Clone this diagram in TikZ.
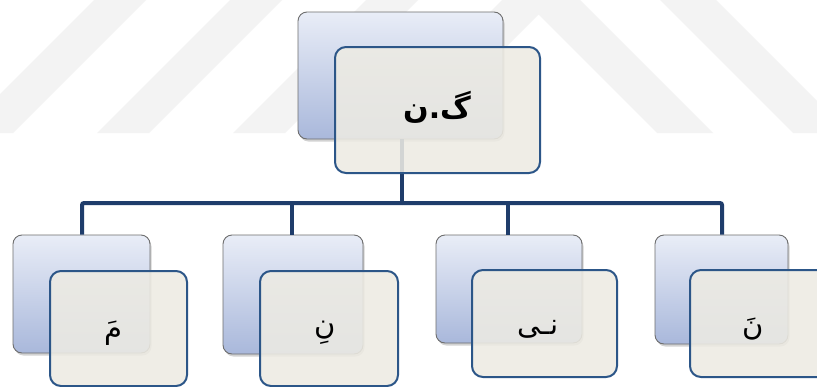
\documentclass[tikz,border=0pt]{standalone}
\usepackage{fontspec}
\newfontfamily\arabicfont[Script=Arabic]{DejaVu Sans}
\TeXXeTstate=1
\usetikzlibrary{shadows}
\definecolor{wm}{HTML}{F3F3F3}
\definecolor{backtop}{HTML}{E9EDF7}
\definecolor{backbot}{HTML}{A9B8DB}
\definecolor{backline}{HTML}{6E6E6E}
\definecolor{frontfill}{HTML}{EDEBE3}
\definecolor{frontline}{HTML}{2C5688}
\definecolor{conn}{HTML}{1F3D6B}
\tikzset{
  backbox/.style={draw=backline, line width=0.9pt, rounded corners=9pt,
    top color=backtop, bottom color=backbot, inner sep=0pt,
    drop shadow={shadow xshift=1.5pt, shadow yshift=-2.5pt, opacity=0.35}},
  frontbox/.style={draw=frontline, line width=2pt, rounded corners=11pt,
    fill=frontfill, fill opacity=0.88, draw opacity=1, inner sep=0pt},
  conline/.style={draw=conn, line width=4pt},
  toplabel/.style={font=\arabicfont\bfseries\fontsize{30}{34}\selectfont, inner sep=0pt},
  childlabel/.style={font=\arabicfont\fontsize{29}{32}\selectfont, inner sep=0pt},
  wmstripe/.style={fill=wm, draw=none}
}
\begin{document}
\begin{tikzpicture}[x=1pt,y=-1pt]
\clip (0,0) rectangle (817,386);
\fill[white] (0,0) rectangle (817,386);
% watermark
\foreach \b in {-39,97,233} {
  \fill[wmstripe] (\b,133) -- (\b+52,133) -- (\b+185,0) -- (\b+133,0) -- cycle;
}
\fill[wmstripe] (369,133) -- (541,-39) -- (713,133) -- (657,133) -- (538.5,14.5) -- (420,133) -- cycle;
\fill[wmstripe] (793,133) -- (849,133) -- (716,0) -- (660,0) -- cycle;

% back boxes
\node[backbox, minimum width=205pt, minimum height=127pt] (tb) at (400.5,75.5) {};
\node[backbox, minimum width=137pt, minimum height=118pt] (b1) at (81.5,294) {};
\node[backbox, minimum width=140pt, minimum height=119pt] (b2) at (293,294.5) {};
\node[backbox, minimum width=146pt, minimum height=108pt] (b3) at (509,289) {};
\node[backbox, minimum width=133pt, minimum height=109pt] (b4) at (721.5,289.5) {};

% connectors
\coordinate (hub) at (402,203);
\draw[conline] (tb.south -| hub) -- (hub);
\draw[conline, rounded corners=2pt] (b1.north -| 82,0) |- (hub);
\draw[conline, rounded corners=2pt] (b4.north -| 722,0) |- (hub);
\draw[conline] (b2.north -| 292,0) -- (292,203);
\draw[conline] (b3.north -| 508,0) -- (508,203);

% front boxes
\node[frontbox, minimum width=205pt, minimum height=126pt] (tf) at (437.5,110) {};
\node[frontbox, minimum width=137pt, minimum height=115pt] (f1) at (118.5,328.5) {};
\node[frontbox, minimum width=138pt, minimum height=115pt] (f2) at (329,328.5) {};
\node[frontbox, minimum width=145pt, minimum height=107pt] (f3) at (544.5,323.5) {};
\node[frontbox, minimum width=140pt, minimum height=107pt] (f4) at (760,323.5) {};

% labels
\node[toplabel] (tl) at (437,107) {\beginR گ.ن\endR};
\node[childlabel] (l1) at (113,333) {\beginR مَ\endR};
\node[childlabel] (l2) at (325,333) {\beginR نِ\endR};
\node[childlabel] (l3) at (538,329) {\beginR نـی\endR};
\node[childlabel] (l4) at (753,329) {\beginR نَ\endR};
\end{tikzpicture}
\end{document}
